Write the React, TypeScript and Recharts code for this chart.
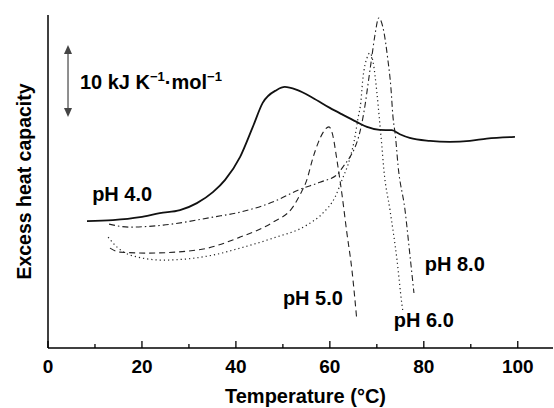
import { LineChart, Line, XAxis, YAxis, ReferenceDot, ReferenceLine } from 'recharts';

// excess heat capacity traces (arbitrary units, offset) vs temperature in °C
const ph4Temp = [8.3, 13.8, 19.6, 23.8, 28.1, 31.7, 35.1, 37.7, 40.9, 43.6, 45.7, 48.7, 50.4, 53.0, 56.4, 60.0, 62.8, 65.7, 67.9, 70.6, 73.2, 74.9, 77.0, 81.3, 85.5, 89.8, 93.4, 99.4];
const ph4Cp = [38.1, 38.4, 39.3, 40.5, 41.4, 43.5, 46.8, 50.5, 57.4, 66.4, 73.6, 77.5, 78.4, 77.5, 75.1, 72.1, 70.0, 67.9, 66.4, 65.5, 65.4, 64.2, 63.1, 62.2, 61.9, 62.2, 62.9, 63.4];

const ph5Temp = [13.2, 15.3, 21.1, 31.7, 40.9, 47.9, 52.1, 53.6, 55.1, 56.4, 57.5, 58.5, 59.8, 60.6, 61.5, 62.6, 63.6, 64.7, 65.7];
const ph5Cp = [30.0, 28.8, 28.5, 29.4, 33.3, 37.8, 42.3, 45.9, 50.5, 57.1, 61.6, 64.6, 66.4, 64.0, 56.5, 45.9, 34.8, 23.4, 9.0];

const ph6Temp = [12.8, 14.7, 17.5, 24.5, 35.1, 40.9, 47.9, 55.1, 58.5, 61.1, 62.6, 64.3, 65.3, 66.0, 66.6, 67.0, 67.9, 68.5, 69.2, 70.0, 70.6, 71.1, 71.5, 72.8, 74.3, 75.3, 75.5];
const ph6Cp = [33.3, 30.3, 27.9, 26.4, 27.9, 30.0, 33.0, 36.9, 40.5, 45.3, 50.5, 57.1, 63.1, 69.1, 73.9, 80.5, 87.1, 88.6, 85.9, 76.9, 67.9, 60.1, 53.5, 41.4, 26.4, 13.5, 11.4];

const ph8Temp = [13.0, 17.4, 24.5, 35.1, 40.9, 48.3, 53.2, 57.9, 61.5, 62.8, 64.3, 65.3, 66.4, 67.5, 68.1, 68.9, 69.6, 70.4, 71.5, 72.3, 73.0, 73.4, 74.0, 74.5, 76.0, 77.0, 77.9];
const ph8Cp = [37.2, 36.3, 36.9, 39.3, 40.8, 44.1, 47.4, 49.8, 52.0, 54.4, 57.4, 60.1, 64.9, 73.0, 79.0, 87.1, 94.0, 99.1, 94.9, 87.1, 78.1, 70.0, 63.1, 55.0, 41.4, 28.5, 16.5];

const tempTicks = [0, 10, 20, 30, 40, 50, 60, 70, 80, 90, 100];

const toPoints = (xs: number[], ys: number[]) => xs.map((x, i) => ({ x, y: ys[i] }));

const font = "'Liberation Sans', Arial, Helvetica, sans-serif";

const AxisTick = (props: any) => {
  const { x, y, payload } = props;
  const major = payload.value % 20 === 0;
  return (
    <g>
      <line x1={x} x2={x} y1={y} y2={y - (major ? 7 : 4)} stroke="#000" strokeWidth={1.3} />
      {major && (
        <text x={x} y={y + 25} textAnchor="middle" fontFamily={font} fontWeight="bold" fontSize={19} fill="#000">
          {payload.value}
        </text>
      )}
    </g>
  );
};

const phLabel = (text: string) => (p: any) => (
  <text x={p.cx} y={p.cy} fontFamily={font} fontWeight="bold" fontSize={20} fill="#000">
    {text}
  </text>
);

const Arrow = (p: any) => {
  const { x1, y1, x2, y2 } = p;
  const top = Math.min(y1, y2);
  const bot = Math.max(y1, y2);
  return (
    <g fill="#444" stroke="#444">
      <line x1={x1} x2={x2} y1={top + 6} y2={bot - 6} strokeWidth={1.2} />
      <path d={`M${x1},${top} L${x1 - 4},${top + 9} L${x1 + 4},${top + 9} Z`} stroke="none" />
      <path d={`M${x1},${bot} L${x1 - 4},${bot - 9} L${x1 + 4},${bot - 9} Z`} stroke="none" />
    </g>
  );
};

const scaleLabel = (p: any) => (
  <text x={p.cx} y={p.cy} fontFamily={font} fontWeight="bold" fontSize={20} fill="#000">
    10 kJ K
    <tspan dy={-8} fontSize={13}>−1</tspan>
    <tspan dy={8}>·mol</tspan>
    <tspan dy={-8} fontSize={13}>−1</tspan>
  </text>
);

export default function App() {
  return (
    <div style={{ position: 'absolute', left: 0, top: 0, background: '#fff' }}>
      <LineChart width={554} height={408} margin={{ top: 15, right: 1, bottom: 0, left: 0 }}>
        <XAxis
          type="number"
          dataKey="x"
          domain={[0, 107.5]}
          ticks={tempTicks}
          interval={0}
          height={60}
          tickSize={0}
          tickMargin={0}
          tickLine={false}
          tick={(p: any) => <AxisTick {...p} />}
          axisLine={{ stroke: '#000', strokeWidth: 1.5 }}
          allowDataOverflow
          label={{ value: 'Temperature (°C)', position: 'insideBottom', offset: 5, dx: 5, fontFamily: font, fontWeight: 'bold', fontSize: 20, fill: '#000' }}
        />
        <YAxis
          type="number"
          domain={[0, 100]}
          width={48}
          tick={false}
          tickLine={false}
          axisLine={{ stroke: '#000', strokeWidth: 1.5 }}
          allowDataOverflow
          label={{ value: 'Excess heat capacity', angle: -90, position: 'center', fontFamily: font, fontWeight: 'bold', fontSize: 19.5, fill: '#000' }}
        />
        <Line data={toPoints(ph4Temp, ph4Cp)} dataKey="y" type="monotone" stroke="#111" strokeWidth={1.8} dot={false} isAnimationActive={false} />
        <Line data={toPoints(ph5Temp, ph5Cp)} dataKey="y" type="monotone" stroke="#222" strokeWidth={1.1} strokeDasharray="6 4" dot={false} isAnimationActive={false} />
        <Line data={toPoints(ph6Temp, ph6Cp)} dataKey="y" type="monotone" stroke="#222" strokeWidth={1.2} strokeDasharray="1.2 3" dot={false} isAnimationActive={false} />
        <Line data={toPoints(ph8Temp, ph8Cp)} dataKey="y" type="monotone" stroke="#222" strokeWidth={1.1} strokeDasharray="6 3 1.5 3" dot={false} isAnimationActive={false} />
        <ReferenceLine segment={[{ x: 4.26, y: 69.4 }, { x: 4.26, y: 91 }]} shape={Arrow} />
        <ReferenceDot x={6.8} y={77.8} r={0} shape={scaleLabel} />
        <ReferenceDot x={9.4} y={44.1} r={0} shape={phLabel('pH 4.0')} />
        <ReferenceDot x={50} y={12.9} r={0} shape={phLabel('pH 5.0')} />
        <ReferenceDot x={73.6} y={6.3} r={0} shape={phLabel('pH 6.0')} />
        <ReferenceDot x={80.2} y={23.1} r={0} shape={phLabel('pH 8.0')} />
      </LineChart>
    </div>
  );
}
